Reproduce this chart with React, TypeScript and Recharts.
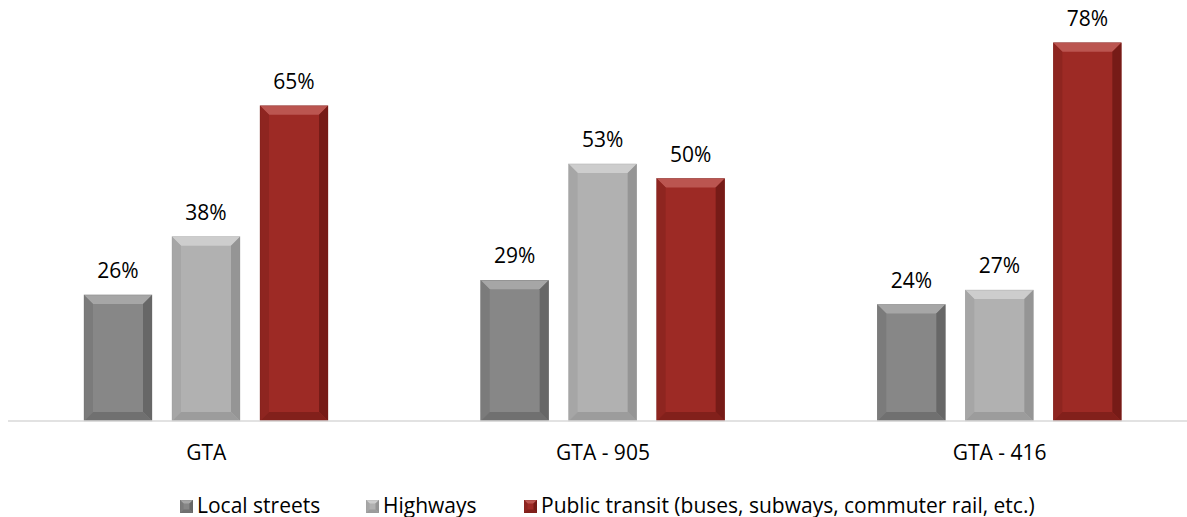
import React from 'react';
import { BarChart, Bar, XAxis, YAxis, LabelList, Legend } from 'recharts';

const categories = ['GTA', 'GTA - 905', 'GTA - 416'];
const localStreets = [26, 29, 24];
const highways = [38, 53, 27];
const publicTransit = [65, 50, 78];
const seriesNames = ['Local streets', 'Highways', 'Public transit (buses, subways, commuter rail, etc.)'];
const seriesKeys = ['local', 'highways', 'transit'];

const data = categories.map((name, i) => ({
  name,
  local: localStreets[i],
  highways: highways[i],
  transit: publicTransit[i],
}));

const FONT = "'Open Sans', sans-serif";

type Pal = { face: string; top: string; left: string; right: string; bottom: string };
const palettes: Record<string, Pal> = {
  local: { face: '#878787', top: '#a6a6a6', left: '#7b7b7b', right: '#676767', bottom: '#707070' },
  highways: { face: '#b1b1b1', top: '#cdcdcd', left: '#a6a6a6', right: '#959595', bottom: '#9c9c9c' },
  transit: { face: '#9d2a25', top: '#bb5550', left: '#8e2520', right: '#761b17', bottom: '#82201b' },
};

function bevel(x: number, y: number, w: number, h: number, p: Pal, size: number) {
  const b = Math.max(0, Math.min(size, w / 2, h / 2));
  return (
    <g>
      <rect x={x} y={y} width={w} height={h} fill={p.face} />
      <polygon points={`${x},${y} ${x + w},${y} ${x + w - b},${y + b} ${x + b},${y + b}`} fill={p.top} />
      <polygon points={`${x},${y} ${x + b},${y + b} ${x + b},${y + h - b} ${x},${y + h}`} fill={p.left} />
      <polygon points={`${x + w},${y} ${x + w},${y + h} ${x + w - b},${y + h - b} ${x + w - b},${y + b}`} fill={p.right} />
      <polygon points={`${x},${y + h} ${x + b},${y + h - b} ${x + w - b},${y + h - b} ${x + w},${y + h}`} fill={p.bottom} />
      <rect x={x} y={y} width={w} height={h} fill="none" stroke={p.right} strokeOpacity={0.5} strokeWidth={0.6} />
    </g>
  );
}

const makeShape = (key: string) => (props: any) => {
  const { x, y, width, height } = props;
  if (!height || height <= 0) return <g />;
  return bevel(x, y, width, height, palettes[key], 9);
};

const legendLefts = [180, 366, 524];

const LegendContent = () => (
  <div style={{ position: 'relative', width: 1187, height: 27 }}>
    {seriesKeys.map((k, i) => (
      <div
        key={k}
        style={{
          position: 'absolute',
          left: legendLefts[i],
          top: 0,
          height: 27,
          display: 'flex',
          alignItems: 'center',
          whiteSpace: 'nowrap',
          fontFamily: FONT,
          fontSize: 21,
          color: '#000',
        }}
      >
        <svg width={13} height={13} style={{ marginRight: 4, marginTop: 3 }}>
          {bevel(0, 0, 13, 13, palettes[k], 3.5)}
        </svg>
        <span>{seriesNames[i]}</span>
      </div>
    ))}
  </div>
);

export default function App() {
  return (
    <div style={{ position: 'fixed', left: 0, top: 0, width: 1187, height: 517, overflow: 'hidden', background: '#fff' }}>
      <BarChart
        width={1198}
        height={517}
        data={data}
        margin={{ top: 33, right: 0, bottom: 0, left: 8 }}
        barSize={68}
        barGap={20}
      >
        <XAxis
          dataKey="name"
          axisLine={{ stroke: '#d9d9d9', strokeWidth: 1.5 }}
          tickLine={false}
          tickSize={0}
          tickMargin={24}
          height={69}
          tick={{ fill: '#000', fontSize: 21, fontFamily: FONT }}
          interval={0}
        />
        <YAxis hide domain={[0, 80]} />
        <Legend
          verticalAlign="bottom"
          content={<LegendContent />}
          wrapperStyle={{ left: 0, top: 491, bottom: 'auto', width: 1187, height: 27 }}
        />
        {seriesKeys.map((k, i) => (
          <Bar
            key={k}
            dataKey={k}
            name={seriesNames[i]}
            fill={palettes[k].face}
            shape={makeShape(k)}
            isAnimationActive={false}
          >
            <LabelList
              dataKey={k}
              position="top"
              offset={17}
              formatter={(v: any) => `${v}%`}
              style={{ fill: '#000', fontSize: 21, fontFamily: FONT }}
            />
          </Bar>
        ))}
      </BarChart>
    </div>
  );
}
